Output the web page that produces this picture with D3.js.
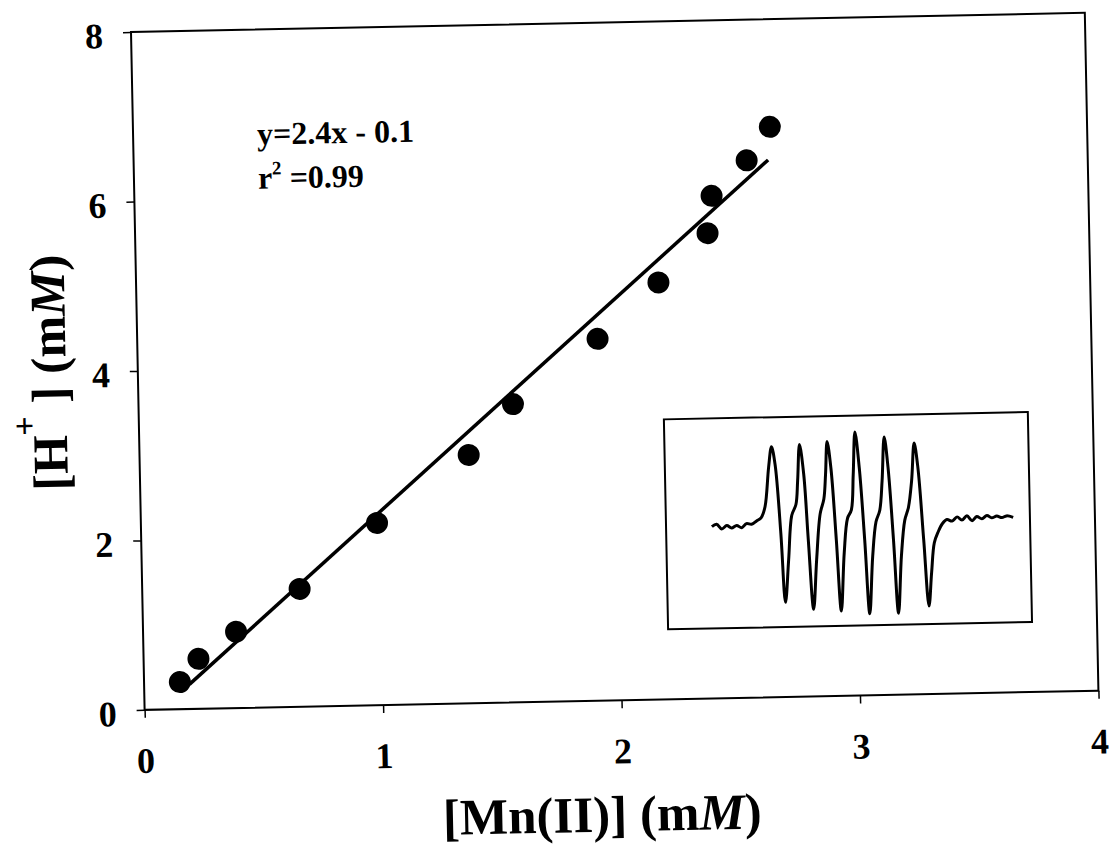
<!DOCTYPE html>
<html>
<head>
<meta charset="utf-8">
<script src="https://cdn.jsdelivr.net/npm/d3@7"></script>
<style>
  body { margin: 0; background: #fff; }
  svg { display: block; }
  text { font-family: "Liberation Serif", "Times New Roman", serif; font-weight: bold; fill: #000; }
</style>
</head>
<body>
<div id="plot"></div>
<script>
// [Mn(II)] vs [H+] data (mM)
const mnConc = [0.15, 0.23, 0.39, 0.66, 0.99, 1.38, 1.57, 1.93, 2.19, 2.40, 2.42, 2.57, 2.67];
const hConc  = [0.32, 0.59, 0.90, 1.39, 2.15, 2.93, 3.52, 4.27, 4.92, 5.49, 5.93, 6.34, 6.73];

// fitted line end points (y = 2.4x - 0.1)
const fitX = [0.19, 2.66];
const fitY = [0.29, 6.34];

const xTicks = [0, 1, 2, 3, 4];
const yTicks = [0, 2, 4, 6, 8];

// inset EPR spectrum (arbitrary field units, derivative signal)
const eprField = [12.6, 13.9, 15.3, 16.7, 18.0, 19.4, 20.8, 22.1, 23.5, 24.9,
  26.2, 27.3, 28.5, 29.4, 30.3, 31.5, 32.4, 33.5, 34.6, 35.8,
  36.4, 37.1, 38.1, 39.0, 40.1, 41.2, 42.4, 43.5, 44.1, 44.7,
  45.6, 46.7, 47.7, 48.8, 49.9, 51.0, 51.7, 52.4, 53.4, 54.5,
  55.5, 56.6, 57.7, 58.8, 59.6, 60.4, 61.3, 62.4, 63.4, 64.5,
  65.6, 66.7, 67.7, 68.6, 69.5, 70.7, 71.8, 72.7, 73.6, 74.7,
  75.9, 77.2, 78.6, 80.0, 81.3, 82.7, 84.1, 85.4, 86.8, 88.2,
  89.5, 90.9, 92.3, 93.6, 95.4];
const eprSignal = [-0.04, -0.01, -0.07, -0.03, -0.06, -0.03, -0.06, -0.01, -0.02, 0.02,
  0.06, 0.19, 0.67, 0.92, 0.70, -0.14, -0.98, -0.46, 0.08, 0.21,
  0.50, 0.94, 0.58, -0.22, -1.07, -0.46, 0.09, 0.27, 0.57, 0.97,
  0.65, -0.23, -1.10, -0.39, 0.03, 0.13, 0.56, 1.08, 0.64, -0.24,
  -1.14, -0.44, -0.02, 0.12, 0.48, 1.01, 0.64, -0.24, -1.14, -0.44,
  -0.01, 0.15, 0.47, 0.93, 0.63, -0.25, -1.06, -0.65, -0.29, -0.16,
  -0.06, -0.01, -0.03, 0.02, -0.02, 0.03, -0.03, 0.02, -0.01, 0.03,
  0.00, 0.02, 0.00, 0.02, 0.00];

const svgWidth = 1112;
const svgHeight = 850;
const margin = { top: 32, left: 131 };
const width = 954;
const height = 678;

const svg = d3.select("#plot")
  .append("svg")
  .attr("width", svgWidth)
  .attr("height", svgHeight);

svg.append("rect")
  .attr("width", svgWidth)
  .attr("height", svgHeight)
  .style("fill", "#fff");

// the scanned figure is slightly tilted
const g = svg.append("g")
  .attr("transform", `translate(${margin.left},${margin.top}) rotate(-1.15)`);

const x = d3.scaleLinear().domain([0, 4]).range([0, width]);
const y = d3.scaleLinear().domain([0, 8]).range([height, 0]);

// plot frame
g.append("rect")
  .attr("width", width)
  .attr("height", height)
  .style("fill", "none")
  .style("stroke", "#000")
  .style("stroke-width", 2);

// axes
const xAxis = g.append("g")
  .attr("transform", `translate(0,${height})`)
  .call(d3.axisBottom(x).tickValues(xTicks).tickSize(8).tickFormat(d3.format("d")));
xAxis.select(".domain").remove();
xAxis.selectAll("line").attr("stroke-width", 1.5);
xAxis.selectAll("text")
  .attr("y", 63)
  .attr("dy", null)
  .style("font-size", "36px");

const yAxis = g.append("g")
  .call(d3.axisLeft(y).tickValues(yTicks).tickSize(8).tickFormat(d3.format("d")));
yAxis.select(".domain").remove();
yAxis.selectAll("line").attr("stroke-width", 1.5);
yAxis.selectAll("text")
  .attr("x", -28)
  .attr("dy", "0.42em")
  .style("font-size", "36px");

// fitted line
const pts = mnConc.map((d, i) => [d, hConc[i]]);
const fit = fitX.map((d, i) => [d, fitY[i]]);

g.append("path")
  .datum(fit)
  .attr("d", d3.line().x(d => x(d[0])).y(d => y(d[1])))
  .style("fill", "none")
  .style("stroke", "#000")
  .style("stroke-width", 3.5);

g.selectAll("circle.pt")
  .data(pts)
  .enter()
  .append("circle")
  .attr("class", "pt")
  .attr("cx", d => x(d[0]))
  .attr("cy", d => y(d[1]))
  .attr("r", 11)
  .style("fill", "#000");

// equation text
g.append("text")
  .attr("x", x(0.52))
  .attr("y", y(6.64))
  .style("font-size", "32px")
  .text("y=2.4x - 0.1");

const r2 = g.append("text")
  .attr("x", x(0.52))
  .attr("y", y(6.12))
  .style("font-size", "32px");
r2.append("tspan").text("r");
r2.append("tspan").attr("dy", -14).style("font-size", "19px").text("2");
r2.append("tspan").attr("dy", 14).text(" =0.99");

// axis titles
const xt = g.append("text")
  .attr("x", x(1.91))
  .attr("y", height + 131)
  .attr("text-anchor", "middle")
  .style("font-size", "51px");
xt.append("tspan").text("[Mn(II)] (m");
xt.append("tspan").style("font-style", "italic").text("M");
xt.append("tspan").text(")");

const yt = g.append("text")
  .attr("transform", `translate(-72,${height / 2}) rotate(-90)`)
  .attr("text-anchor", "middle")
  .style("font-size", "50px");
yt.append("tspan").text("[H");
yt.append("tspan").attr("dy", -31).style("font-size", "34px").text("+");
yt.append("tspan").attr("dy", 31).text(" ] (m");
yt.append("tspan").style("font-style", "italic").text("M");
yt.append("tspan").text(")");

// inset with EPR spectrum
const insetLeft = 525, insetTop = 398, insetW = 364, insetH = 210;
const inset = g.append("g")
  .attr("transform", `translate(${insetLeft},${insetTop})`);

inset.append("rect")
  .attr("width", insetW)
  .attr("height", insetH)
  .style("fill", "#fff")
  .style("stroke", "#000")
  .style("stroke-width", 2);

const ix = d3.scaleLinear().domain([0, 100]).range([0, insetW]);
const iy = d3.scaleLinear().domain([-1.28, 1.28]).range([insetH, 0]);

inset.append("path")
  .datum(eprField.map((d, i) => [d, eprSignal[i]]))
  .attr("d", d3.line().curve(d3.curveCatmullRom).x(d => ix(d[0])).y(d => iy(d[1])))
  .style("fill", "none")
  .style("stroke", "#000")
  .style("stroke-width", 3)
  .style("stroke-linejoin", "round");
</script>
</body>
</html>
